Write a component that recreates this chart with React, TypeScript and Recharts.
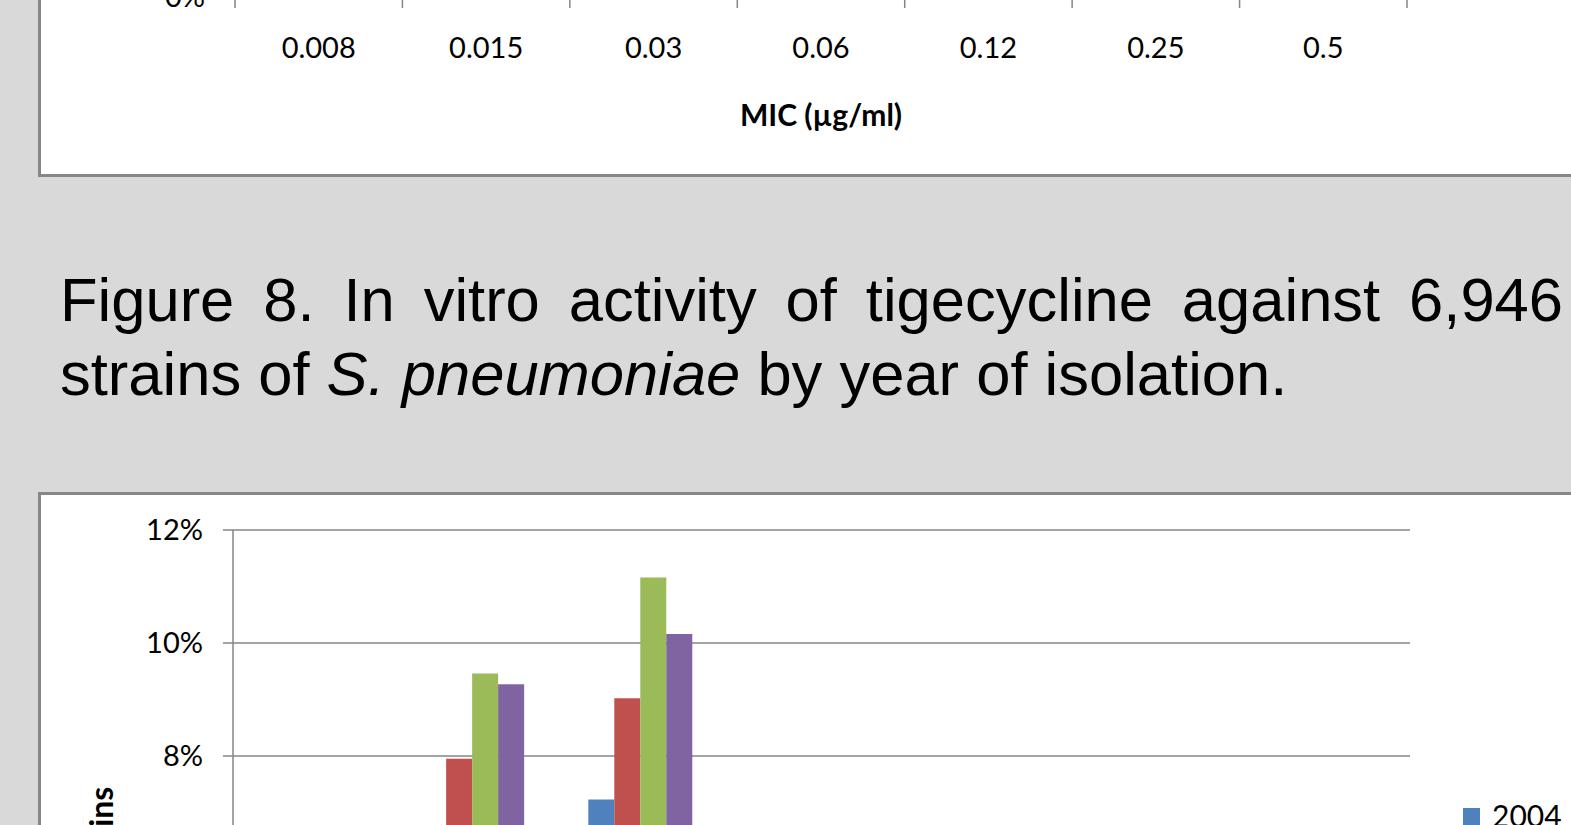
import React from 'react';
import { BarChart, Bar, XAxis, YAxis, CartesianGrid, Legend } from 'recharts';

// MIC categories shared by both charts
const micLabels = ['0.008', '0.015', '0.03', '0.06', '0.12', '0.25', '0.5'];

// % of all strains, per year of isolation (values below ~6.6% are estimates, cropped off)
const years = ['2004', '2005', '2006', '2007', '2008'];
const yearColors = ['#4F81BD', '#C0504D', '#9BBB59', '#8064A2', '#4BACC6'];
const pct2004 = [1.4, 5.6, 7.23, 2.6, 0.4, 0.1, 0.0];
const pct2005 = [1.6, 7.95, 9.02, 2.6, 0.3, 0.1, 0.0];
const pct2006 = [1.9, 9.46, 11.16, 3.0, 0.3, 0.1, 0.0];
const pct2007 = [2.0, 9.27, 10.16, 2.9, 0.4, 0.1, 0.0];
const pct2008 = [0.9, 4.1, 5.3, 1.5, 0.2, 0.0, 0.0];
const yearSeries = [pct2004, pct2005, pct2006, pct2007, pct2008];

const yTicks = [0, 2, 4, 6, 8, 10, 12];
const topYTicks = [0, 20, 40, 60, 80, 100];

const GRAY = '#868686';
const FONT = 'Lato, Carlito, sans-serif';
const TICK_FONT = { fontSize: 29, fontFamily: FONT, fill: '#000' };

const yearData = micLabels.map((mic, i) => {
  const row: Record<string, string | number> = { mic };
  years.forEach((y, s) => {
    row[y] = yearSeries[s][i];
  });
  return row;
});

const micOnly = micLabels.map((mic) => ({ mic }));

const boxStyle: React.CSSProperties = {
  position: 'absolute',
  left: 38,
  width: 1600,
  boxSizing: 'border-box',
  border: '3px solid #878787',
  background: '#fff',
};

// Excel style: tick marks sit between categories, labels in the middle
function MicTick(props: any) {
  const { x, y, payload, index, width, visibleTicksCount } = props;
  const half = width / visibleTicksCount / 2;
  const isLast = index === visibleTicksCount - 1;
  return (
    <g>
      <line x1={x - half} x2={x - half} y1={y} y2={y + 11} stroke={GRAY} strokeWidth={1.5} />
      {isLast && <line x1={x + half} x2={x + half} y1={y} y2={y + 11} stroke={GRAY} strokeWidth={1.5} />}
      <text x={x} y={y + 40} dy="0.71em" textAnchor="middle" style={TICK_FONT}>
        {payload.value}
      </text>
    </g>
  );
}

function YearLegend(props: any) {
  const payload = props.payload || [];
  return (
    <div>
      {payload.map((entry: any) => (
        <div key={entry.value} style={{ display: 'flex', alignItems: 'flex-start', height: 37 }}>
          <div style={{ width: 17, height: 17, marginTop: 8, marginRight: 12, background: entry.color }} />
          <span style={{ fontSize: 30, lineHeight: '30px', fontFamily: FONT, color: '#000' }}>{entry.value}</span>
        </div>
      ))}
    </div>
  );
}

export default function App() {
  return (
    <div
      style={{
        position: 'absolute',
        left: 0,
        top: 0,
        width: 1571,
        height: 825,
        overflow: 'hidden',
        background: '#D9D9D9',
      }}
    >
      {/* previous figure, only its x axis is in view */}
      <div style={{ ...boxStyle, top: -500, height: 677 }}>
        <BarChart width={1530} height={671} data={micOnly} margin={{ top: 20, right: 164, bottom: 0, left: 0 }}>
          <XAxis
            dataKey="mic"
            interval={0}
            height={177}
            tickSize={0}
            tickMargin={0}
            tickLine={false}
            tick={MicTick}
            axisLine={{ stroke: GRAY, strokeWidth: 1.5 }}
            label={{
              value: 'MIC (µg/ml)',
              position: 'insideBottom',
              offset: 48,
              style: { fontSize: 30, fontWeight: 700, fontFamily: FONT, fill: '#000' },
            }}
          />
          <YAxis
            type="number"
            domain={[0, 100]}
            allowDataOverflow
            ticks={topYTicks}
            interval={0}
            tickFormatter={(v: number) => `${v}%`}
            width={194}
            tickSize={10}
            tickMargin={20}
            tick={TICK_FONT}
            axisLine={{ stroke: GRAY, strokeWidth: 1.5 }}
            tickLine={{ stroke: GRAY, strokeWidth: 1.5 }}
          />
        </BarChart>
      </div>

      <div
        style={{
          position: 'absolute',
          left: 60,
          top: 263,
          width: 1503,
          fontFamily: '"Liberation Sans", Arial, sans-serif',
          fontSize: 61.5,
          lineHeight: '74px',
          textAlign: 'justify',
          color: '#000',
        }}
      >
        Figure 8. In vitro activity of tigecycline against 6,946 strains of <i>S. pneumoniae</i> by year of
        isolation.
      </div>

      {/* Figure 8 */}
      <div style={{ ...boxStyle, top: 492, height: 900 }}>
        <BarChart
          width={1530}
          height={860}
          data={yearData}
          margin={{ top: 35, right: 161, bottom: 0, left: 0 }}
          barCategoryGap={19}
          barGap={0}
        >
          <CartesianGrid vertical={false} stroke={GRAY} strokeWidth={1.5} />
          <XAxis
            dataKey="mic"
            height={147}
            interval={0}
            tick={TICK_FONT}
            axisLine={{ stroke: GRAY, strokeWidth: 1.5 }}
            tickLine={false}
            tickMargin={30}
          />
          <YAxis
            domain={[0, 12]}
            ticks={yTicks}
            interval={0}
            tickFormatter={(v: number) => `${v}%`}
            width={192}
            tickSize={10}
            tickMargin={20}
            tick={TICK_FONT}
            axisLine={{ stroke: GRAY, strokeWidth: 1.5 }}
            tickLine={{ stroke: GRAY, strokeWidth: 1.5 }}
            label={{
              position: 'center',
              content: (props: any) => {
                const vb = props.viewBox;
                const cx = vb.x + 72;
                const cy = vb.y + vb.height / 2;
                return (
                  <text
                    x={cx}
                    y={cy}
                    transform={`rotate(-90, ${cx}, ${cy})`}
                    textAnchor="middle"
                    style={{ fontSize: 32, fontWeight: 700, fontFamily: FONT, fill: '#000' }}
                  >
                    % of strains
                  </text>
                );
              },
            }}
          />
          <Legend
            layout="vertical"
            align="center"
            verticalAlign="middle"
            wrapperStyle={{ left: 1422, top: 305 }}
            content={YearLegend}
          />
          {years.map((y, i) => (
            <Bar key={y} dataKey={y} fill={yearColors[i]} isAnimationActive={false} />
          ))}
        </BarChart>
      </div>
    </div>
  );
}
